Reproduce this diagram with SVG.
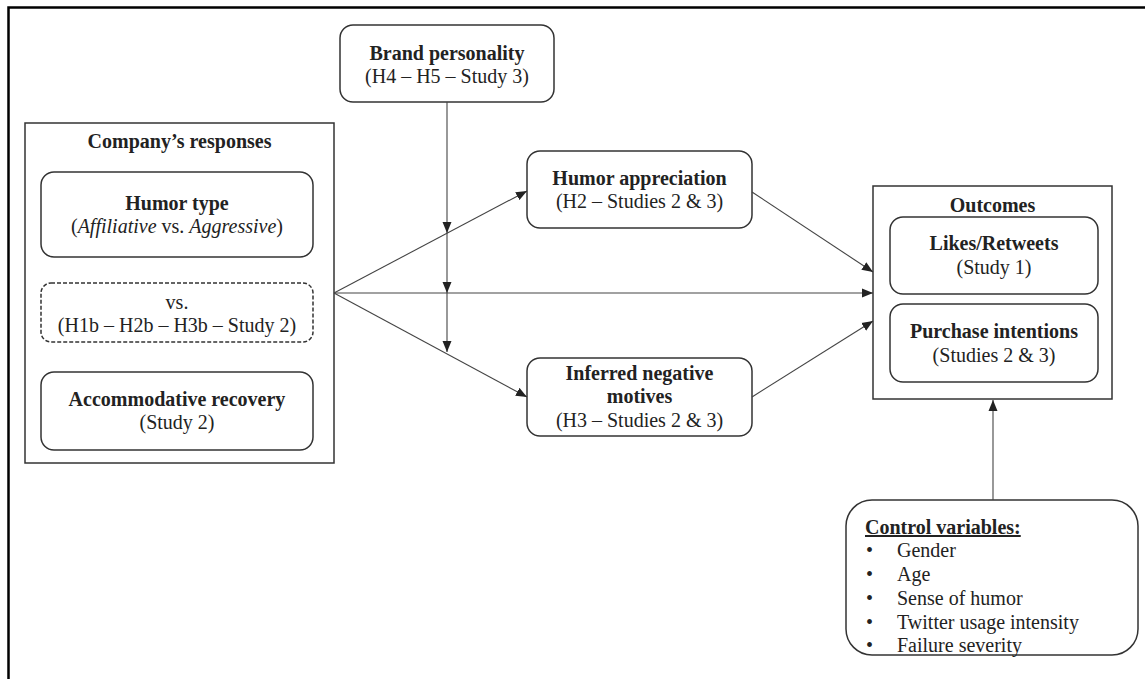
<svg xmlns="http://www.w3.org/2000/svg" width="1145" height="679" viewBox="0 0 1145 679">
<style>
text{font-family:"Liberation Serif","Times New Roman",serif;font-size:20px;fill:#222;}
.b{font-weight:bold;}
.c{text-anchor:middle;}
.box{fill:#fff;stroke:#333;stroke-width:1.5;}
.frame{fill:none;stroke:#000;stroke-width:2.5;}
.con{fill:none;stroke:#444;stroke-width:1.1;}
</style>
<defs>
<marker id="ah" markerUnits="userSpaceOnUse" markerWidth="12" markerHeight="10" refX="11" refY="5" orient="auto">
<path d="M0,0.5 L11,5 L0,9.5 z" fill="#222"/>
</marker>
</defs>
<rect width="1145" height="679" fill="#fff"/>
<path class="frame" d="M8.5,679 L8.5,7.5 L1145,7.5"/>

<g id="company-responses">
<rect class="box" x="25" y="123" width="309" height="340"/>
<text class="b c" x="179.5" y="148">Company’s responses</text>
</g>
<g id="humor-type">
<rect class="box" x="41" y="172" width="272" height="85" rx="13"/>
<text class="b c" x="177" y="210">Humor type</text>
<text class="c" x="177" y="233">(<tspan font-style="italic">Affiliative</tspan> vs. <tspan font-style="italic">Aggressive</tspan>)</text>
</g>
<g id="vs">
<rect class="box" x="41" y="283" width="272" height="59" rx="10" stroke-dasharray="4,2"/>
<text class="c" x="177" y="309">vs.</text>
<text class="c" x="177" y="332">(H1b – H2b – H3b – Study 2)</text>
</g>
<g id="accommodative">
<rect class="box" x="41" y="372" width="272" height="78" rx="13"/>
<text class="b c" x="177" y="406">Accommodative recovery</text>
<text class="c" x="177" y="429">(Study 2)</text>
</g>
<g id="brand-personality">
<rect class="box" x="340" y="25" width="214" height="77" rx="13"/>
<text class="b c" x="447" y="60">Brand personality</text>
<text class="c" x="447" y="83">(H4 – H5 – Study 3)</text>
</g>
<g id="humor-appreciation">
<rect class="box" x="527" y="151" width="225" height="77" rx="13"/>
<text class="b c" x="639.5" y="185">Humor appreciation</text>
<text class="c" x="639.5" y="208">(H2 – Studies 2 &amp; 3)</text>
</g>
<g id="inferred-negative-motives">
<rect class="box" x="527" y="358" width="225" height="78" rx="13"/>
<text class="b c" x="639.5" y="380">Inferred negative</text>
<text class="b c" x="639.5" y="403">motives</text>
<text class="c" x="639.5" y="427">(H3 – Studies 2 &amp; 3)</text>
</g>
<g id="outcomes">
<rect class="box" x="873" y="186" width="239" height="213"/>
<text class="b c" x="992.5" y="212">Outcomes</text>
</g>
<g id="likes-retweets">
<rect class="box" x="890" y="217" width="208" height="77" rx="13"/>
<text class="b c" x="994" y="250">Likes/Retweets</text>
<text class="c" x="994" y="274">(Study 1)</text>
</g>
<g id="purchase-intentions">
<rect class="box" x="890" y="304" width="208" height="78" rx="13"/>
<text class="b c" x="994" y="338">Purchase intentions</text>
<text class="c" x="994" y="362">(Studies 2 &amp; 3)</text>
</g>
<g id="control-variables">
<rect class="box" x="846" y="500" width="292" height="155" rx="26"/>
<text class="b" x="865" y="534" text-decoration="underline">Control variables:</text>
<text x="866" y="557">•</text><text x="897" y="557">Gender</text>
<text x="866" y="581">•</text><text x="897" y="581">Age</text>
<text x="866" y="605">•</text><text x="897" y="605">Sense of humor</text>
<text x="866" y="629">•</text><text x="897" y="629">Twitter usage intensity</text>
<text x="866" y="652">•</text><text x="897" y="652">Failure severity</text>
</g>

<g id="connectors">
<path class="con" d="M334,293 L527,191" marker-end="url(#ah)"/>
<path class="con" d="M334,293 L873,293" marker-end="url(#ah)"/>
<path class="con" d="M334,293 L527,397" marker-end="url(#ah)"/>
<path class="con" d="M447,102 L447,233" marker-end="url(#ah)"/>
<path class="con" d="M447,233 L447,293" marker-end="url(#ah)"/>
<path class="con" d="M447,293 L447,352" marker-end="url(#ah)"/>
<path class="con" d="M752,192 L873,272" marker-end="url(#ah)"/>
<path class="con" d="M752,397 L873,321" marker-end="url(#ah)"/>
<path class="con" d="M993,500 L993,400" marker-end="url(#ah)"/>
</g>
</svg>
